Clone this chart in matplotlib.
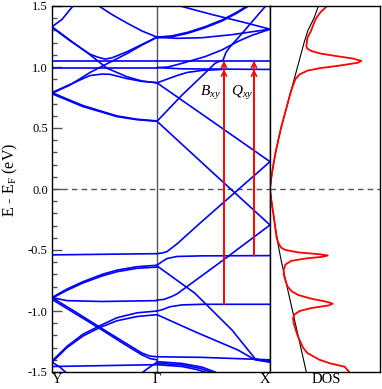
import matplotlib
matplotlib.use("Agg")
import matplotlib.pyplot as plt
from matplotlib.ticker import MultipleLocator, FormatStrFormatter

plt.rcParams['font.family'] = ['Liberation Serif', 'DejaVu Serif']
plt.rcParams['mathtext.fontset'] = 'custom'
plt.rcParams['mathtext.rm'] = 'Liberation Serif'
plt.rcParams['mathtext.it'] = 'Liberation Serif:italic'
plt.rcParams['axes.unicode_minus'] = False

# ---- k path ----
k_ticks = [0, 105, 218]
k_labels = ['Y', 'Γ', 'X']

# ---- bands Y-Γ (k, E) ----
yg_a = [(0, 1.33), (10, 1.39), (21, 1.50), (30, 1.58)]
yg_b = [(45, 1.52), (48, 1.494), (60, 1.43), (75, 1.36), (90, 1.295), (105, 1.245)]
yg_c = [(0, 1.33), (18, 1.22), (38, 1.10), (55, 0.99), (75, 0.92), (90, 0.885), (105, 0.87)]
yg_d = [(0, 1.325), (18, 1.215), (38, 1.105), (46, 1.08), (53, 1.065), (60, 1.075), (75, 1.125), (90, 1.185), (105, 1.245)]
yg_e = [(0, 0.785), (18, 0.852), (38, 0.955), (51, 1.01), (75, 1.11), (90, 1.18), (105, 1.243)]
yg_f = [(0, 0.79), (18, 0.857), (38, 0.93), (50, 0.942), (58, 0.94), (75, 0.905), (90, 0.882), (105, 0.872)]
yg_g = [(0, 1.05), (105, 1.05)]
yg_h = [(0, 0.995), (105, 0.995)]
yg_i = [(0, 0.78), (15, 0.73), (31, 0.675), (50, 0.63), (65, 0.593), (85, 0.568), (105, 0.555)]
yg_i2 = [(0, 0.79), (15, 0.738), (31, 0.684), (50, 0.636), (65, 0.599), (85, 0.572), (105, 0.558)]
yg_j = [(0, -0.54), (105, -0.53)]
yg_k = [(0, -0.89), (15, -0.82), (31, -0.76), (50, -0.70), (65, -0.665), (85, -0.637), (105, -0.625)]
yg_k2 = [(0, -0.895), (15, -0.83), (31, -0.77), (50, -0.713), (65, -0.678), (85, -0.65), (105, -0.64)]
yg_l = [(0, -0.89), (15, -0.915), (50, -0.922), (105, -0.915)]
yg_m = [(0, -0.89), (24, -1.01), (48, -1.134), (72, -1.255), (90, -1.345), (98, -1.37), (105, -1.375)]
yg_m2 = [(0, -0.905), (24, -1.025), (48, -1.145), (72, -1.27), (90, -1.36), (98, -1.39), (105, -1.40)]
yg_n = [(0, -1.41), (15, -1.29), (31, -1.19), (48, -1.12), (65, -1.055), (85, -1.015), (105, -1.0)]
yg_n2 = [(0, -1.42), (15, -1.30), (31, -1.205), (48, -1.135), (65, -1.08), (85, -1.045), (105, -1.03)]
yg_o = [(0, -1.455), (105, -1.44)]
yg_p = [(0, -1.42), (8, -1.46), (16, -1.52)]
yg_q = [(88, -1.52), (96, -1.47), (105, -1.42)]

# ---- bands Γ-X (k, E) ----
gx_a = [(105, 1.245), (120, 1.255), (136, 1.285), (153, 1.33), (170, 1.385), (185, 1.45), (195, 1.50), (205, 1.56)]
gx_a2 = [(105, 1.24), (120, 1.248), (136, 1.277), (153, 1.322), (170, 1.377), (185, 1.442), (195, 1.492), (205, 1.552)]
gx_b = [(105, 1.243), (125, 1.235), (150, 1.24), (180, 1.265), (218, 1.31)]
gx_c = [(120, 1.52), (130, 1.496), (160, 1.43), (190, 1.37), (218, 1.31)]
gx_d = [(105, 0.555), (130, 0.77), (151, 0.934), (163, 1.03), (167, 1.045), (171, 1.055), (174, 1.12), (178, 1.165), (190, 1.275), (213, 1.494), (220, 1.555)]
gx_e = [(105, 0.87), (160, 0.556), (218, 0.224)]
gx_f = [(105, 1.05), (218, 1.05)]
gx_g = [(105, 0.995), (130, 0.985), (218, 0.98)]
gx_h = [(105, 0.87), (115, 0.9), (125, 0.93), (135, 0.955), (150, 0.972), (170, 0.98)]
gx_i = [(105, 0.995), (116, 1.0), (130, 1.03), (153, 1.085), (170, 1.14), (186, 1.21), (200, 1.26), (218, 1.31)]
gx_j = [(105, -0.53), (110, -0.525), (115, -0.513), (125, -0.45), (148, -0.28), (218, 0.224)]
gx_k = [(105, 0.555), (160, 0.14), (218, -0.295)]
gx_l = [(105, -0.625), (110, -0.595), (115, -0.57), (125, -0.553), (150, -0.548), (218, -0.546)]
gx_m = [(105, -0.91), (112, -0.905), (120, -0.88), (125, -0.86), (170, -0.59), (218, -0.295)]
gx_n = [(105, -1.0), (110, -0.99), (118, -0.965), (130, -0.95), (150, -0.945), (218, -0.945)]
gx_o = [(105, -0.63), (143, -0.855), (180, -1.156), (203, -1.39), (210, -1.405), (218, -1.41)]
gx_p = [(105, -1.03), (143, -1.17), (186, -1.32), (203, -1.40), (218, -1.42)]
gx_q = [(105, -1.375), (150, -1.38), (218, -1.40)]
gx_r = [(105, -1.415), (130, -1.43), (150, -1.46), (163, -1.50), (170, -1.53)]
gx_s = [(105, -1.44), (130, -1.455), (145, -1.48), (160, -1.52)]
gx_t = [(105, -1.428), (130, -1.442), (148, -1.47), (162, -1.51)]

# ---- transitions ----
b_xy_k = 172
b_xy_from = -0.945
q_xy_k = 202
q_xy_from = -0.546
arrow_tops = [0.98, 1.05]

# ---- DOS ----
dos_tot_E = [1.5, 1.4, 1.3, 1.2, 1.1, 1.0, 0.9, 0.8, 0.7, 0.6, 0.5, 0.4, 0.3, 0.2, 0.1, 0.0,
             -0.1, -0.2, -0.3, -0.4, -0.5, -0.6, -0.7, -0.8, -0.9, -1.0, -1.1, -1.2, -1.3, -1.4, -1.5]
dos_tot = [0.44, 0.40, 0.345, 0.31, 0.28, 0.25, 0.22, 0.19, 0.16, 0.13, 0.10, 0.075, 0.052, 0.032, 0.014, 0.0,
           0.014, 0.03, 0.047, 0.064, 0.083, 0.105, 0.13, 0.155, 0.18, 0.205, 0.23, 0.255, 0.28, 0.305, 0.33]

dos_p_E = [1.5, 1.45, 1.4, 1.36, 1.29, 1.25, 1.22, 1.2, 1.17, 1.15, 1.13, 1.11, 1.09, 1.07, 1.05, 1.035,
           1.01, 0.99, 0.97, 0.94, 0.9, 0.85, 0.8, 0.7, 0.6, 0.5, 0.4, 0.3, 0.2, 0.1, 0.0,
           -0.1, -0.2, -0.3, -0.4, -0.44, -0.48, -0.50, -0.52, -0.535, -0.545, -0.555, -0.57, -0.59, -0.62,
           -0.66, -0.7, -0.75, -0.8, -0.84, -0.87, -0.9, -0.925, -0.94, -0.955, -0.975, -1.0, -1.03, -1.06,
           -1.1, -1.2, -1.26, -1.3, -1.345, -1.4, -1.43, -1.457, -1.5]
dos_p = [0.52, 0.46, 0.42, 0.40, 0.37, 0.345, 0.336, 0.335, 0.33, 0.34, 0.38, 0.46, 0.60, 0.75, 0.83, 0.80,
         0.62, 0.45, 0.34, 0.27, 0.23, 0.21, 0.19, 0.16, 0.13, 0.10, 0.075, 0.05, 0.03, 0.013, 0.0,
         0.013, 0.03, 0.045, 0.06, 0.075, 0.10, 0.14, 0.26, 0.45, 0.525, 0.48, 0.32, 0.19, 0.14,
         0.125, 0.125, 0.14, 0.16, 0.20, 0.26, 0.38, 0.52, 0.57, 0.53, 0.38, 0.27, 0.22, 0.21,
         0.215, 0.25, 0.28, 0.30, 0.34, 0.45, 0.55, 0.68, 0.72]

bands = [yg_a, yg_b, yg_c, yg_d, yg_e, yg_f, yg_g, yg_h, yg_i, yg_i2, yg_j, yg_k, yg_k2, yg_l,
         yg_m, yg_m2, yg_n, yg_n2, yg_o, yg_p, yg_q,
         gx_a, gx_a2, gx_b, gx_c, gx_d, gx_e, gx_f, gx_g, gx_h, gx_i, gx_j, gx_k, gx_l, gx_m,
         gx_n, gx_o, gx_p, gx_q, gx_r, gx_s, gx_t]

W, H = 382, 389
fig = plt.figure(figsize=(W / 100, H / 100), dpi=100)
ax = fig.add_axes([52 / W, 1 - 372 / H, 218 / W, 366 / H])
ax2 = fig.add_axes([270 / W, 1 - 372 / H, 110 / W, 366 / H])

for b in bands:
    ks = [p[0] for p in b]
    es = [p[1] for p in b]
    ax.plot(ks, es, color='#0000ff', lw=1.2, solid_capstyle='round', solid_joinstyle='round')

ax.axvline(k_ticks[1], color='#555555', lw=1.0, zorder=0)
ax.axhline(0, color='#555555', lw=1.0, ls=(0, (4, 3)), zorder=0)

for k0, e0 in [(b_xy_k, b_xy_from), (q_xy_k, q_xy_from)]:
    for top in arrow_tops:
        ax.annotate('', xy=(k0, top), xytext=(k0, e0),
                    arrowprops=dict(arrowstyle='->,head_length=0.35,head_width=0.18',
                                    color='#ff0000', lw=1.2, shrinkA=0, shrinkB=0))

ax.text(158, 0.79, r'$B_{xy}$', fontsize=11, ha='center', va='center')
ax.text(190, 0.79, r'$Q_{xy}$', fontsize=11, ha='center', va='center')

ax.set_xlim(k_ticks[0], k_ticks[-1])
ax.set_ylim(-1.5, 1.5)
ax.yaxis.set_major_locator(MultipleLocator(0.5))
ax.yaxis.set_minor_locator(MultipleLocator(0.1))
ax.yaxis.set_major_formatter(FormatStrFormatter('%.1f'))
ax.tick_params(axis='y', which='major', direction='in', length=7, width=1, color='#555555',
               labelsize=9, pad=3, right=False)
ax.tick_params(axis='y', which='minor', direction='in', length=3.5, width=1, color='#555555', right=False)
ax.set_xticks(k_ticks)
ax.set_xticklabels(k_labels)
ax.tick_params(axis='x', length=0, labelsize=10.5, pad=1)
tl = ax.get_xticklabels()
tl[0].set_ha('left')
tl[2].set_ha('right')
for s in ax.spines.values():
    s.set_linewidth(1.0)
fig.text(10 / W, 1 - 180 / H, r'E - E$_\mathrm{F}$ (eV)', rotation=90, fontsize=11.5,
         ha='center', va='center')

ax2.plot(dos_tot, dos_tot_E, color='black', lw=0.8)
ax2.plot(dos_p, dos_p_E, color='#ff0000', lw=1.3)
ax2.axhline(0, color='#555555', lw=1.0, ls=(0, (4, 3)), zorder=0)
ax2.set_xlim(0, 1)
ax2.set_ylim(-1.5, 1.5)
ax2.set_yticks([])
ax2.set_xticks([0.51])
ax2.set_xticklabels(['DOS'])
ax2.tick_params(axis='x', length=0, labelsize=10.5, pad=1)
for s in ax2.spines.values():
    s.set_linewidth(1.0)

fig.savefig('out.png', dpi=100)
